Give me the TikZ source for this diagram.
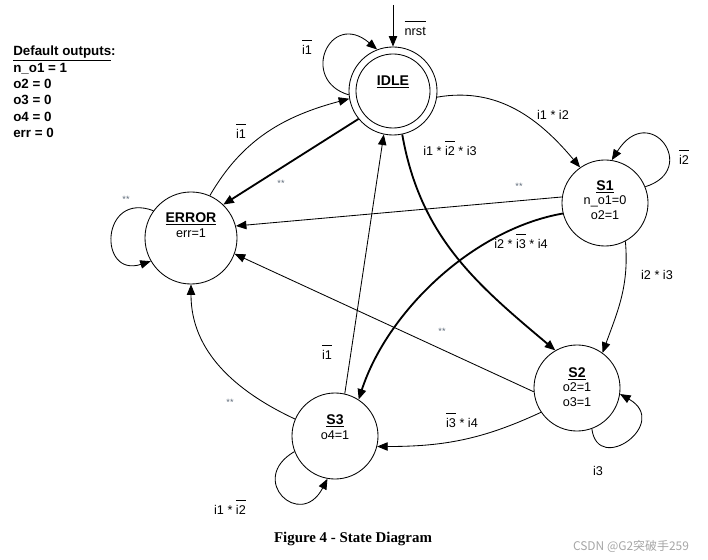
\documentclass[tikz,border=0pt]{standalone}
\usepackage{fontspec}
\setmainfont{Liberation Sans}
\newfontfamily\capfont{Liberation Serif}
\newfontfamily\cjkfont{Noto Sans CJK SC}
\usetikzlibrary{arrows.meta}
\definecolor{starcol}{HTML}{5F6B7A}
\newcommand{\ovl}[1]{$\overline{\mbox{\rule{0pt}{0.9em}#1}}$}
\newcommand{\stname}[1]{{\fontsize{10}{11}\selectfont\underline{\textbf{#1}}}}

\begin{document}
\begin{tikzpicture}[x=0.025cm, y=0.025cm,
  state/.style={draw, circle, line width=0.6pt, minimum size=2.15cm, inner sep=0pt},
  stxt/.style={align=center, font=\fontsize{9}{10.5}\selectfont, inner sep=0pt},
  cond/.style={font=\fontsize{9}{10}\selectfont, inner sep=1pt},
  twostar/.style={font=\fontsize{6.5}{7}\selectfont, text=starcol, inner sep=0pt},
  tr/.style={line width=0.6pt, -{Triangle[length=7.5pt,width=6pt]}},
  trb/.style={tr, line width=1.3pt},
]
\useasboundingbox (0,0) rectangle (708,559);

%% States
\node[state, minimum size=2.2cm] (idle) at (393,468) {};
\node[state, minimum size=1.85cm] (idlein) at (idle) {};
\node[stxt] (idletxt) at (393,477) {\stname{IDLE}};
\node[state] (s1) at (605,356) {};
\node[stxt] (s1txt) at (605,359) {\stname{S1}\\n\_o1=0\\o2=1};
\node[state, minimum size=2.3cm] (err) at (191,321) {};
\node[stxt] (errtxt) at (191,334) {\stname{ERROR}\\err=1};
\node[state] (s2) at (577,171) {};
\node[stxt] (s2txt) at (577,172) {\stname{S2}\\o2=1\\o3=1};
\node[state] (s3) at (335,123) {};
\node[stxt] (s3txt) at (335,132) {\stname{S3}\\o4=1};

%% Reset
\coordinate (rst) at (393,554);
\draw[tr] (rst) -- (idle.north);
\node[cond, anchor=west] (rstlbl) at (403,531) {\ovl{nrst}};

%% Transitions out of IDLE
\draw[tr] (idle.185) .. controls +(-50,15) and +(-47,40) .. (idle.111);
\node[cond] (idleself) at (307,512) {\ovl{i1}};
\draw[tr] (idle.-8) to[out=10, in=130] (s1.125);
\node[cond] (idles1) at (553,444) {i1 * i2};
\draw[trb] (idle.219) -- (err.46);
\node[twostar] (idleerr) at (281,376) {**};
\draw[trb] (idle.282) to[out=-80, in=140] (s2.120);
\node[cond] (idles2) at (450,411) {i1 * \ovl{i2} * i3};

%% Transitions out of S1
\draw[tr] (s1.22) .. controls +(55,17) and +(38,60) .. (s1.81);
\node[cond] (s1self) at (684,402) {\ovl{i2}};
\draw[tr] (s1.172) -- (err.15);
\node[twostar] (s1err) at (519,373) {**};
\draw[trb] (s1.194) to[out=190, in=72, looseness=0.85] (s3.57);
\node[cond] (s1s3) at (521,318) {i2 * \ovl{i3} * i4};
\draw[tr] (s1.-62) to[out=-85, in=70] (s2.54);
\node[cond] (s1s2) at (657,284) {i2 * i3};

%% Transitions out of S2
\draw[tr] (s2.-70) .. controls +(6,-47) and +(51,-29) .. (s2.-8);
\node[cond] (s2self) at (598,88) {i3};
\draw[tr] (s2.185) -- (err.-20);
\node[twostar] (s2err) at (442,228) {**};
\draw[tr] (s2.214) to[out=205, in=0] (s3.-14);
\node[cond] (s2s3) at (462,139) {\ovl{i3} * i4};

%% Transitions out of S3
\draw[tr] (s3.77) -- (idle.258);
\node[cond] (s3idle) at (327,207) {\ovl{i1}};
\draw[tr] (s3.157) to[out=155, in=-90] (err.-90);
\node[twostar] (s3err) at (230,157) {**};
\draw[tr] (s3.201) .. controls +(-48,-28) and +(-27,-52) .. (s3.260);
\node[cond] (s3self) at (230,52) {i1 * \ovl{i2}};

%% Transitions out of ERROR
\draw[tr] (err.66) to[out=60, in=195] (idle.190);
\node[cond] (erridle) at (241,428) {\ovl{i1}};
\draw[tr] (err.144) .. controls +(-53,20) and +(-53,-17) .. (err.210);
\node[twostar] (errself) at (126,360) {**};

%% Default outputs and caption
\node[anchor=north west, align=left, inner sep=0pt,
  font=\bfseries\fontsize{9.5}{11.6}\selectfont] (defs) at (13,513)
  {\underline{Default outputs}:\\n\_o1 = 1\\o2 = 0\\o3 = 0\\o4 = 0\\err = 0};
\node[font=\capfont\bfseries\fontsize{10.6}{12}\selectfont] (cap) at (353,20)
  {Figure 4 - State Diagram};
\node[font=\cjkfont\fontsize{8.5}{10}\selectfont, text=black!35] (wm) at (631,13)
  {CSDN @G2突破手259};
\end{tikzpicture}
\end{document}
